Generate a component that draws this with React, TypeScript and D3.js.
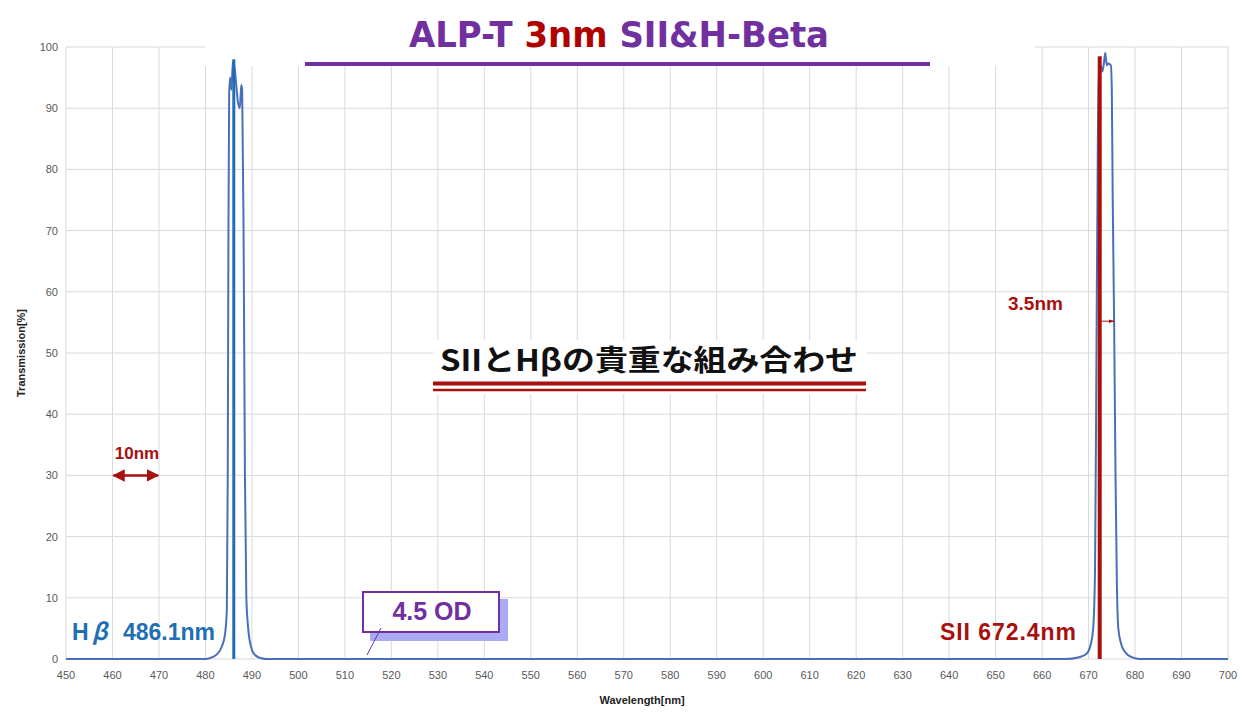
import * as d3 from "d3";

// filter transmission curve (nm, %)
const hbWave = [450, 480, 481.5, 482.5, 483.5, 484.2, 484.6, 484.8, 484.95, 485.1, 485.3, 485.6, 485.9, 486.2, 486.6, 487.0, 487.4, 487.7, 487.9, 488.2, 488.5, 488.8, 489.2, 489.8, 490.6, 491.7, 493];
const hbTrans = [0, 0, 0.3, 0.8, 2, 4, 8, 30, 70, 92, 95, 93, 97.6, 97, 94, 91, 90, 93.8, 93, 70, 30, 10, 5, 2, 0.7, 0.2, 0];
const siiWave = [665, 668, 669.5, 670.5, 671.0, 671.4, 671.7, 672.0, 672.3, 672.7, 673.0, 673.4, 673.6, 673.9, 674.2, 674.8, 675.0, 675.2, 675.5, 675.8, 676.1, 676.4, 677, 678, 679.3, 681, 700];
const siiTrans = [0, 0.3, 0.8, 2.5, 5, 15, 50, 85, 96.5, 96.8, 96, 98, 99, 97, 97.3, 97, 93, 75, 55, 30, 12, 5, 2.5, 1, 0.3, 0, 0];

const xTicks = [450, 460, 470, 480, 490, 500, 510, 520, 530, 540, 550, 560, 570, 580, 590, 600, 610, 620, 630, 640, 650, 660, 670, 680, 690, 700];
const yTicks = [0, 10, 20, 30, 40, 50, 60, 70, 80, 90, 100];

const hbLine = { nm: 486.1, top: 98 };
const siiLine = { nm: 672.4, top: 98.5 };

const PURPLE = "#7030a0";
const RED = "#a80f0f";
const BLUE = "#1f6fb2";
const CURVE = "#4a6fba";
const GRID = "#d9d9d9";
const SANS = "'Liberation Sans', Arial, sans-serif";
const CJK = "'Noto Sans CJK JP', sans-serif";

export default function App() {
    const x = d3.scaleLinear().domain([450, 700]).range([66, 1228]);
    const y = d3.scaleLinear().domain([0, 100]).range([659, 47]);

    const points: [number, number][] = [
        ...hbWave.map((w, i) => [w, hbTrans[i]] as [number, number]),
        ...siiWave.map((w, i) => [w, siiTrans[i]] as [number, number]),
    ];
    const line = d3
        .line<[number, number]>()
        .x((d) => x(d[0]))
        .y((d) => y(d[1]))
        .curve(d3.curveMonotoneX);

    return (
        <svg
            width={1243}
            height={715}
            style={{ position: "absolute", left: 0, top: 0, background: "#fff" }}
        >
            <defs>
                <marker id="redHead" viewBox="0 0 10 10" refX={9} refY={5} markerWidth={5} markerHeight={5} orient="auto-start-reverse">
                    <path d="M0,0 L10,5 L0,10 z" fill={RED} />
                </marker>
                <marker id="smallHead" viewBox="0 0 10 10" refX={9} refY={5} markerWidth={6} markerHeight={6} orient="auto">
                    <path d="M0,2 L10,5 L0,8 z" fill={RED} />
                </marker>
            </defs>

            {/* grid */}
            {xTicks.map((t) => (
                <line key={`gx${t}`} x1={x(t)} x2={x(t)} y1={y(0)} y2={y(100)} stroke={GRID} strokeWidth={1} />
            ))}
            {yTicks.map((t) => (
                <line key={`gy${t}`} x1={x(450)} x2={x(700)} y1={y(t)} y2={y(t)} stroke={GRID} strokeWidth={1} />
            ))}

            {/* tick labels */}
            {yTicks.map((t) => (
                <text key={`ly${t}`} x={58} y={y(t) + 4} textAnchor="end" fontSize={11} fill="#595959" fontFamily={SANS}>
                    {t}
                </text>
            ))}
            {xTicks.map((t) => (
                <text key={`lx${t}`} x={x(t)} y={679} textAnchor="middle" fontSize={11} fill="#595959" fontFamily={SANS}>
                    {t}
                </text>
            ))}
            <text x={642} y={704} textAnchor="middle" fontSize={11} fontWeight="bold" fontFamily={SANS} fill="#222">
                Wavelength[nm]
            </text>
            <text transform="translate(25,353) rotate(-90)" textAnchor="middle" fontSize={11} fontWeight="bold" fontFamily={SANS} fill="#222">
                Transmission[%]
            </text>

            {/* title */}
            <rect x={205} y={0} width={830} height={66} fill="#fff" />
            <text x={619} y={47} textAnchor="middle" fontSize={36} fontWeight="bold" fontFamily="'Liberation Sans Narrow', 'DejaVu Sans Condensed', sans-serif" textLength={420} lengthAdjust="spacingAndGlyphs">
                <tspan fill={PURPLE}>ALP-T </tspan>
                <tspan fill="#b00000">3nm</tspan>
                <tspan fill={PURPLE}> SII&amp;H-Beta</tspan>
            </text>
            <line x1={305} x2={930} y1={64} y2={64} stroke={PURPLE} strokeWidth={4} />

            {/* curve */}
            <path d={line(points) || undefined} fill="none" stroke={CURVE} strokeWidth={2} />

            {/* emission lines */}
            <line x1={x(hbLine.nm)} x2={x(hbLine.nm)} y1={y(0)} y2={y(hbLine.top)} stroke={BLUE} strokeWidth={3} />
            <line x1={x(siiLine.nm)} x2={x(siiLine.nm)} y1={y(0)} y2={y(siiLine.top)} stroke={RED} strokeWidth={4} />

            {/* center caption */}
            <rect x={433} y={340} width={434} height={54} fill="#fff" />
            <text x={440} y={371} fontSize={29} fontWeight="bold" fontFamily={CJK} fill="#111" textLength={418} lengthAdjust="spacingAndGlyphs">
                SIIとHβの貴重な組み合わせ
            </text>
            <line x1={433} x2={866} y1={383.5} y2={383.5} stroke={RED} strokeWidth={4} />
            <line x1={433} x2={866} y1={390} y2={390} stroke={RED} strokeWidth={2.5} />

            {/* 10nm scale */}
            <text x={137} y={459} textAnchor="middle" fontSize={17} fontWeight="bold" fontFamily={SANS} fill={RED}>
                10nm
            </text>
            <line x1={x(460) + 1} x2={x(470) - 1} y1={y(30)} y2={y(30)} stroke={RED} strokeWidth={2.5} markerStart="url(#redHead)" markerEnd="url(#redHead)" />

            {/* 3.5nm */}
            <text x={1008} y={310} fontSize={19} fontWeight="bold" fontFamily={SANS} fill={RED}>
                3.5nm
            </text>
            <line x1={x(siiLine.nm) + 2} x2={x(675.5)} y1={y(55.2)} y2={y(55.2)} stroke={RED} strokeWidth={1} markerEnd="url(#smallHead)" />

            {/* line labels */}
            <text x={72} y={640} fontSize={23} fontWeight="bold" fontFamily={SANS} fill={BLUE}>
                <tspan>H</tspan>
                <tspan x={92} fontFamily={CJK} fontStyle="italic">β</tspan>
                <tspan x={123}>486.1nm</tspan>
            </text>
            <text x={940} y={640} fontSize={23} fontWeight="bold" fontFamily={SANS} fill={RED} textLength={136}>
                SII 672.4nm
            </text>

            {/* OD box */}
            <rect x={370} y={599} width={138} height={42} fill="#aaaaf5" />
            <rect x={363} y={592} width={136} height={40} fill="#fff" stroke={PURPLE} strokeWidth={2} />
            <text x={432} y={620} textAnchor="middle" fontSize={25} fontWeight="bold" fontFamily={SANS} fill={PURPLE}>
                4.5 OD
            </text>
            <line x1={367} y1={655} x2={381} y2={628} stroke={PURPLE} strokeWidth={1} />
        </svg>
    );
}
